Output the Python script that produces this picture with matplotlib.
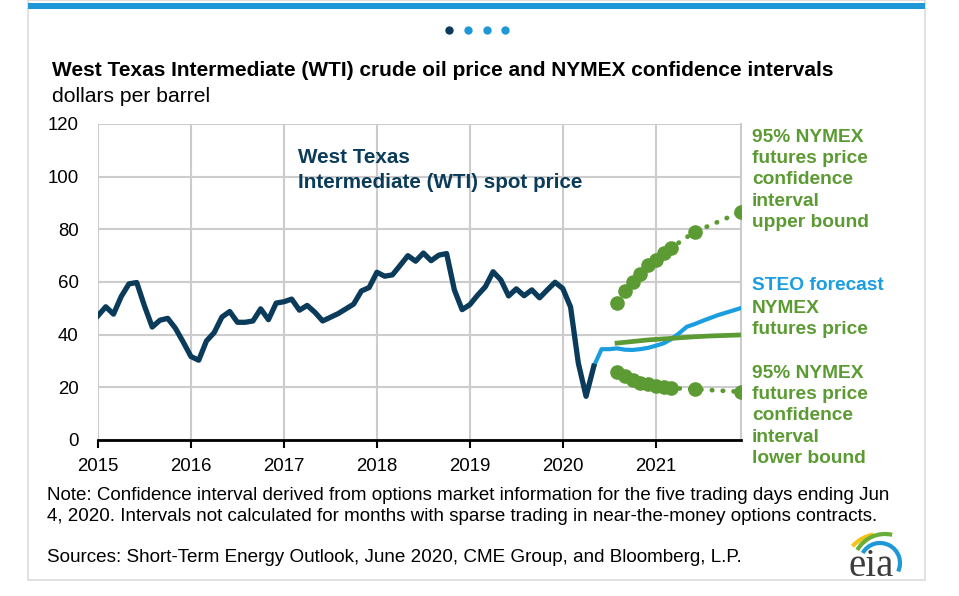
import numpy as np
import matplotlib
matplotlib.use("Agg")
import matplotlib.pyplot as plt
from matplotlib.patches import Rectangle, Arc
from matplotlib.lines import Line2D

plt.rcParams["font.family"] = ["Liberation Sans", "DejaVu Sans"]

# monthly WTI spot price, Jan 2015 - May 2020
wti = [
    47.2, 50.6, 47.8, 54.5, 59.3, 59.8, 50.9, 42.9, 45.5, 46.2, 42.4, 37.2,
    31.7, 30.3, 37.6, 40.8, 46.7, 48.8, 44.7, 44.7, 45.2, 49.8, 45.7, 52.0,
    52.5, 53.5, 49.3, 51.1, 48.5, 45.2, 46.6, 48.0, 49.8, 51.6, 56.6, 57.9,
    63.7, 62.2, 62.7, 66.3, 70.0, 67.9, 71.0, 68.1, 70.2, 70.8, 57.0, 49.5,
    51.4, 55.0, 58.2, 63.9, 60.8, 54.7, 57.4, 54.8, 57.0, 54.0, 57.0, 59.9,
    57.5, 50.5, 29.2, 16.6, 28.0,
]
# STEO forecast, May 2020 - Dec 2021
steo = [28.0, 34.5, 34.5, 34.8, 34.3, 34.2, 34.5, 35.0, 35.8, 36.7,
        38.3, 40.5, 43.0, 44.0, 45.2, 46.3, 47.4, 48.3, 49.2, 50.1]
# NYMEX futures and 95% bounds, Aug 2020 - Dec 2021
futures = [36.8, 37.1, 37.4, 37.7, 38.0, 38.2, 38.4, 38.6, 38.8,
           39.0, 39.2, 39.35, 39.5, 39.6, 39.7, 39.8, 39.9]
nan = np.nan
upper = [52.0, 56.6, 60.0, 63.0, 66.3, 68.4, 71.0, 73.0, nan,
         nan, 79.0, nan, nan, nan, nan, nan, 86.6]
lower = [25.8, 24.3, 22.8, 21.7, 21.3, 20.6, 20.2, 19.7, nan,
         nan, 19.3, nan, nan, nan, nan, nan, 18.3]
years = [2015, 2016, 2017, 2018, 2019, 2020, 2021]

NAVY = "#0b3b5a"
BLUE = "#1a9ee0"
GREEN = "#5c9b33"


def months(start, n):
    return 2015 + (start + np.arange(n)) / 12


W, H = 959, 596
fig = plt.figure(figsize=(W / 100, H / 100), dpi=100)
fig.patch.set_facecolor("white")


def fx(px):
    return px / W


def fy(py):
    return 1 - py / H


# card frame and top bar
fig.patches.append(Rectangle((fx(28), fy(580)), fx(897), 580 / H, transform=fig.transFigure,
                             facecolor="none", edgecolor="#dcdcdc", lw=1.2))
fig.patches.append(Rectangle((fx(28), fy(9)), fx(897), 6 / H, transform=fig.transFigure,
                             facecolor="#1e98d7", edgecolor="none"))
for i, x in enumerate([449, 468, 487, 505]):
    fig.add_artist(Line2D([fx(x)], [fy(30)], transform=fig.transFigure, marker="o", ms=6,
                          mew=0, color=NAVY if i == 0 else "#1e98d7"))

fig.text(fx(52), fy(70), "West Texas Intermediate (WTI) crude oil price and NYMEX confidence intervals",
         fontsize=15.0, fontweight="bold", va="center", ha="left")
fig.text(fx(52), fy(97), "dollars per barrel", fontsize=15.2, va="center", ha="left")

ax = fig.add_axes([fx(98), fy(440), fx(741 - 98), (440 - 124) / H])

x_wti = months(0, len(wti))
x_steo = months(64, len(steo))
x_fut = months(67, len(futures))

ax.plot(x_steo, steo, color=BLUE, lw=3.0, solid_joinstyle="round", zorder=3)
ax.plot(x_wti, wti, color=NAVY, lw=3.8, solid_joinstyle="round", zorder=4)
ax.plot(x_fut, futures, color=GREEN, lw=3.4, zorder=3)

for vals in (upper, lower):
    v = np.array(vals)
    ok = ~np.isnan(v)
    ax.plot(x_fut[ok], v[ok], color=GREEN, lw=3.4, linestyle=(0, (0.1, 2.2)),
            dash_capstyle="round", zorder=3)
    ax.plot(x_fut[ok], v[ok], "o", color=GREEN, ms=9.5, zorder=3)

ax.set_xlim(2015, 2015 + 83 / 12)
ax.set_ylim(0, 120)
ax.set_yticks(range(0, 121, 20))
ax.set_xticks(years)
ax.set_xticklabels([str(y) for y in years])
ax.grid(True, color="#cccccc", lw=1.5)
ax.set_axisbelow(True)
for s in ("top", "left"):
    ax.spines[s].set_visible(False)
ax.spines["right"].set_color("#cccccc")
ax.spines["right"].set_linewidth(1.5)
ax.spines["bottom"].set_linewidth(2)
ax.spines["bottom"].set_zorder(5)
ax.tick_params(axis="y", length=0, pad=14, labelsize=13.4)
ax.tick_params(axis="x", length=6, width=1.5, direction="out", pad=7, labelsize=13.4)

ax.text(2017.15, 102.5, "West Texas\nIntermediate (WTI) spot price", color=NAVY,
        fontsize=14.9, fontweight="bold", va="center", ha="left", linespacing=1.42)

lx = fx(752)
lab = dict(fontsize=13.8, fontweight="bold", va="center", ha="left", linespacing=1.32)
fig.text(lx, fy(180), "95% NYMEX\nfutures price\nconfidence\ninterval\nupper bound",
         color=GREEN, **lab)
fig.text(lx, fy(286), "STEO forecast", color=BLUE, **lab)
fig.text(lx, fy(319), "NYMEX\nfutures price", color=GREEN, **lab)
fig.text(lx, fy(416), "95% NYMEX\nfutures price\nconfidence\ninterval\nlower bound",
         color=GREEN, **lab)

fig.text(fx(47), fy(506),
         "Note: Confidence interval derived from options market information for the five trading days ending Jun\n"
         "4, 2020. Intervals not calculated for months with sparse trading in near-the-money options contracts.",
         fontsize=13.5, va="center", ha="left", linespacing=1.3)
fig.text(fx(47), fy(557), "Sources: Short-Term Energy Outlook, June 2020, CME Group, and Bloomberg, L.P.",
         fontsize=13.6, va="center", ha="left")

# eia logo, axes in figure pixels (y up)
lax = fig.add_axes([fx(840), fy(585), fx(80), 65 / H])
lax.set_xlim(840, 920)
lax.set_ylim(596 - 585, 596 - 520)
lax.axis("off")
lax.text(871, 596 - 566, "eia", family=["Liberation Serif", "DejaVu Serif"], fontsize=28,
         color="#3c3c3c", ha="center", va="center")
lax.add_patch(Arc((880, 25), 74, 74, theta1=100, theta2=138, color="#f2c318", lw=3))
lax.add_patch(Arc((885, 30), 64, 64, theta1=77, theta2=150, color="#6aae3a", lw=3))
lax.add_patch(Arc((880, 33), 40, 40, theta1=-25, theta2=150, color="#1e98d7", lw=3))

fig.savefig("out.png", dpi=100)
